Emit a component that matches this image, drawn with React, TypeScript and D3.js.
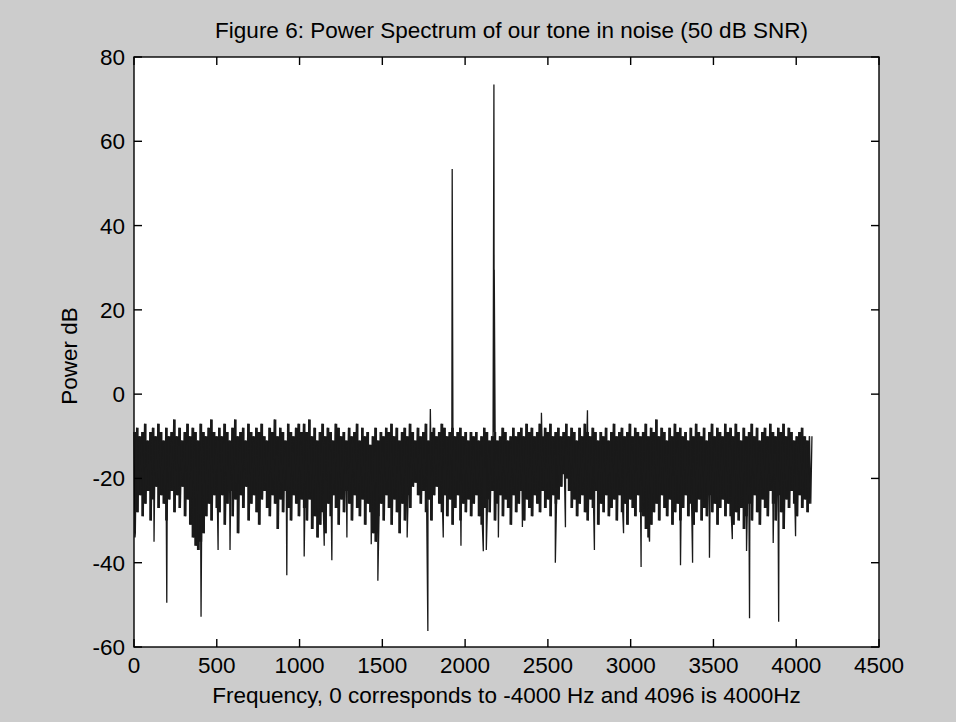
import React from "react";
import * as d3 from "d3";

// ---- data ----
// Noise band: per 16-bin group, an upper and a lower value (dB)
const upperEnvelope: number[] = [
  -9,-8,-10,-9,-7,-11,-9,-8,-10,-7,-9,-11,-8,-10,-9,-6,-10,-8,-11,-9,-7,-10,-8,-9,-11,-7,-9,-10,-8,-6,-9,-10,
  -8,-10,-7,-9,-11,-8,-6,-10,-9,-8,-11,-7,-9,-10,-8,-9,-7,-10,-11,-8,-9,-6,-10,-8,-9,-11,-7,-9,-10,-8,-7,-9,
  -7,-9,-6,-10,-8,-11,-9,-7,-10,-8,-9,-11,-7,-8,-10,-9,-11,-8,-10,-9,-7,-11,-8,-10,-9,-12,-10,-8,-11,-9,-10,-8,
  -9,-7,-10,-8,-11,-9,-8,-10,-7,-9,-11,-8,-10,-9,-7,-11,-9,-8,-10,-9,-7,-8,-10,-9,-8,-10,-9,-8,-10,-9,-11,-9,
  -10,-9,-11,-10,-8,-9,-11,-10,-9,-11,-10,-8,-9,-11,-10,-8,-10,-9,-8,-10,-7,-9,-8,-10,-9,-7,-10,-8,-9,-7,-10,-9,
  -8,-10,-9,-7,-10,-8,-9,-11,-8,-10,-7,-9,-10,-8,-9,-11,-9,-10,-8,-11,-9,-7,-10,-9,-8,-10,-9,-7,-10,-8,-9,-10,
  -9,-7,-10,-8,-9,-6,-10,-8,-9,-11,-8,-10,-7,-9,-8,-10,-9,-11,-8,-10,-7,-9,-10,-8,-11,-9,-7,-10,-8,-9,-10,-7,
  -9,-8,-10,-7,-9,-11,-8,-10,-9,-7,-10,-8,-11,-9,-8,-10,-7,-9,-10,-8,-9,-7,-10,-8,-9,-11,-10,-9,-8,-10,-11,-10,
];
const lowerEnvelope: number[] = [
  -33,-28,-24,-29,-26,-23,-30,-25,-22,-27,-24,-26,-30,-25,-23,-28,-24,-27,-22,-29,-25,-31,-34,-36,-37,-35,-33,-29,-26,-30,-24,-27,
  -28,-24,-31,-26,-23,-29,-25,-33,-24,-27,-22,-30,-26,-24,-28,-31,-25,-23,-27,-29,-24,-26,-32,-25,-28,-23,-27,-30,-24,-26,-29,-25,
  -27,-30,-25,-32,-29,-34,-31,-28,-33,-26,-29,-24,-27,-31,-25,-28,-23,-26,-30,-24,-27,-29,-25,-31,-26,-28,-33,-35,-29,-26,-30,-24,
  -27,-31,-25,-28,-33,-26,-30,-24,-27,-22,-21,-24,-26,-23,-28,-25,-30,-24,-22,-26,-28,-24,-29,-25,-31,-27,-24,-30,-26,-28,-25,-29,
  -26,-24,-29,-31,-27,-25,-28,-23,-30,-26,-24,-29,-25,-27,-31,-24,-28,-26,-23,-30,-25,-27,-29,-24,-26,-28,-23,-27,-25,-29,-24,-26,
  -25,-22,-19,-20,-23,-27,-25,-29,-26,-24,-28,-30,-25,-27,-23,-31,-26,-28,-24,-29,-27,-25,-30,-24,-28,-26,-31,-25,-27,-29,-24,-28,
  -29,-32,-34,-31,-28,-26,-30,-24,-27,-29,-25,-31,-28,-26,-30,-27,-24,-29,-26,-31,-28,-25,-30,-27,-29,-24,-28,-26,-31,-27,-25,-29,
  -26,-29,-31,-28,-30,-27,-32,-29,-26,-30,-24,-28,-31,-25,-27,-29,-23,-26,-30,-24,-28,-32,-25,-27,-23,-26,-29,-24,-27,-25,-28,-26,
];
// Individual spikes (tones and deep nulls): bin index and value
const spikeBins: number[] = [
  6, 121, 198, 405, 508, 580, 923, 1028, 1149, 1195, 1286, 1433, 1473, 1650, 1775, 1790, 1868,
  1922, 1975, 2110, 2128, 2174, 2175, 2176, 2201, 2346, 2461, 2545, 2606, 2739, 2781, 2957,
  3063, 3114, 3301, 3374, 3476, 3614, 3700, 3718, 3861, 3894, 3996, 4095,
];
const spikeValues: number[] = [
  -34, -35, -49.5, -52.8, -37, -37, -43, -38.5, -36, -39.4, -34, -35.6, -44.3, -34, -56.2, -3.5, -34,
  53.4, -36, -37.3, -37, 73.5, 29.5, 29.5, -34, -31.5, -4.4, -40, -31.6, -3.8, -37, -33,
  -41, -35, -40.6, -40, -38.8, -34.4, -37.2, -53.2, -35.3, -54, -33.7, -10,
];
const xTicks: number[] = [0, 500, 1000, 1500, 2000, 2500, 3000, 3500, 4000, 4500];
const yTicks: number[] = [-60, -40, -20, 0, 20, 40, 60, 80];

const TITLE = "Figure 6: Power Spectrum of our tone in noise (50 dB SNR)";
const XLABEL = "Frequency, 0 corresponds to -4000 Hz and 4096 is 4000Hz";
const YLABEL = "Power dB";

const W = 956, H = 722;
const L = 134, R = 879, T = 57, B = 647;
const FONT = "'Liberation Sans', Arial, Helvetica, sans-serif";
const FS = 22.5;
const INK = "#1a1a1a";

export default function App() {
  const x = d3.scaleLinear().domain([0, 4500]).range([L, R]);
  const y = d3.scaleLinear().domain([-60, 80]).range([B, T]);

  // the trace, as plotted sample points
  const pts: [number, number][] = [];
  upperEnvelope.forEach((u, k) => {
    pts.push([16 * k, u]);
    pts.push([16 * k + 8, lowerEnvelope[k]]);
  });
  spikeBins.forEach((b, i) => pts.push([b, spikeValues[i]]));
  pts.sort((a, b) => a[0] - b[0]);

  // dense core of the trace: each 16-bin group spans its lower..upper range
  const groups = upperEnvelope.map((u, k) => ({ bin: 16 * k + 4, hi: u, lo: lowerEnvelope[k] }));
  const core = d3
    .area<{ bin: number; hi: number; lo: number }>()
    .x((d) => x(d.bin))
    .y0((d) => y(d.lo))
    .y1((d) => y(d.hi))
    .curve(d3.curveStep);

  const line = d3.line<[number, number]>().x((d) => x(d[0])).y((d) => y(d[1]));
  const tickLen = 8;

  return (
    <div style={{ position: "absolute", left: 0, top: 0, width: W, height: H }}>
      <svg width={W} height={H} style={{ display: "block" }}>
        <rect x={0} y={0} width={W} height={H} fill="#cccccc" />
        <rect x={L} y={T} width={R - L} height={B - T} fill="#ffffff" />
        <path d={core(groups) || ""} fill={INK} stroke="none" />
        <path d={line(pts) || ""} fill="none" stroke={INK} strokeWidth={1.3} />
        {/* axes box */}
        <rect x={L} y={T} width={R - L} height={B - T} fill="none" stroke="#000" strokeWidth={1.4} />
        {xTicks.map((t) => (
          <g key={"x" + t}>
            <line x1={x(t)} x2={x(t)} y1={B} y2={B - tickLen} stroke="#000" strokeWidth={1.4} />
            <line x1={x(t)} x2={x(t)} y1={T} y2={T + tickLen} stroke="#000" strokeWidth={1.4} />
            <text x={x(t)} y={673} textAnchor="middle" fontFamily={FONT} fontSize={FS} fill="#000">
              {t}
            </text>
          </g>
        ))}
        {yTicks.map((t) => (
          <g key={"y" + t}>
            <line x1={L} x2={L + tickLen} y1={y(t)} y2={y(t)} stroke="#000" strokeWidth={1.4} />
            <line x1={R} x2={R - tickLen} y1={y(t)} y2={y(t)} stroke="#000" strokeWidth={1.4} />
            <text x={125} y={y(t) + 8} textAnchor="end" fontFamily={FONT} fontSize={FS} fill="#000">
              {t}
            </text>
          </g>
        ))}
        <text x={(L + R) / 2 + 5} y={38} textAnchor="middle" fontFamily={FONT} fontSize={FS} fill="#000">
          {TITLE}
        </text>
        <text x={(L + R) / 2} y={703} textAnchor="middle" fontFamily={FONT} fontSize={FS} fill="#000">
          {XLABEL}
        </text>
        <text
          transform={`translate(77, 356) rotate(-90)`}
          textAnchor="middle"
          fontFamily={FONT}
          fontSize={FS}
          fill="#000"
        >
          {YLABEL}
        </text>
      </svg>
    </div>
  );
}
